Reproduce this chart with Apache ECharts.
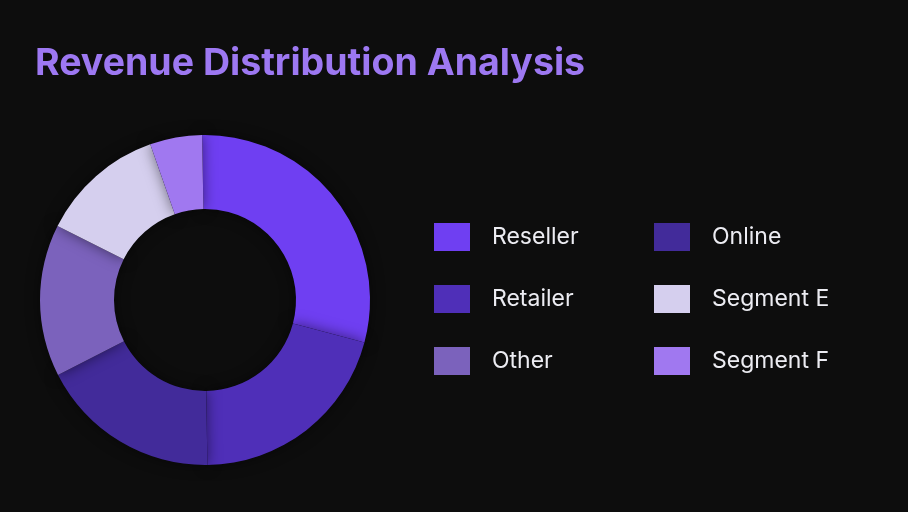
<!DOCTYPE html>
<html>
<head>
<meta charset="utf-8">
<script src="https://cdn.jsdelivr.net/npm/echarts@6/dist/echarts.min.js"></script>
<style>
html,body{margin:0;padding:0;background:#0d0d0d;}
#chart{width:908px;height:512px;}
</style>
</head>
<body>
<div id="chart"></div>
<script>
var categories = ['Reseller', 'Retailer', 'Online', 'Other', 'Segment E', 'Segment F'];
var values = [29.4, 20.6, 17.7, 14.9, 12.2, 5.1];
var colors = ['#6f3ff2', '#4f2fb8', '#422b9a', '#7b62bc', '#d5cfee', '#a078f0'];
var legendOrder = ['Reseller', 'Online', 'Retailer', 'Segment E', 'Other', 'Segment F'];

var chart = echarts.init(document.getElementById('chart'));
var data = categories.map(function (c, i) {
  return { name: c, value: values[i], itemStyle: { color: colors[i] } };
});
chart.setOption({
  backgroundColor: '#0d0d0d',
  animation: false,
  title: {
    text: 'Revenue Distribution Analysis',
    left: 30,
    top: 40,
    textStyle: { color: '#9d78f2', fontSize: 37.5, fontWeight: 'bold', fontFamily: 'Inter' }
  },
  legend: {
    data: legendOrder,
    orient: 'horizontal',
    left: 429,
    top: 218,
    width: 450,
    itemWidth: 36,
    itemHeight: 28,
    itemGap: 34,
    icon: 'rect',
    textStyle: { color: '#ececf2', fontSize: 23, fontFamily: 'Inter', width: 128, lineHeight: 28, padding: [0, 0, 0, 17] }
  },
  series: [{
    type: 'pie',
    center: [205, 300],
    radius: [91, 165],
    startAngle: 91,
    label: { show: false },
    labelLine: { show: false },
    itemStyle: { shadowBlur: 14, shadowColor: 'rgba(0,0,0,0.5)' },
    emphasis: { disabled: true },
    data: data
  }]
});
</script>
</body>
</html>
